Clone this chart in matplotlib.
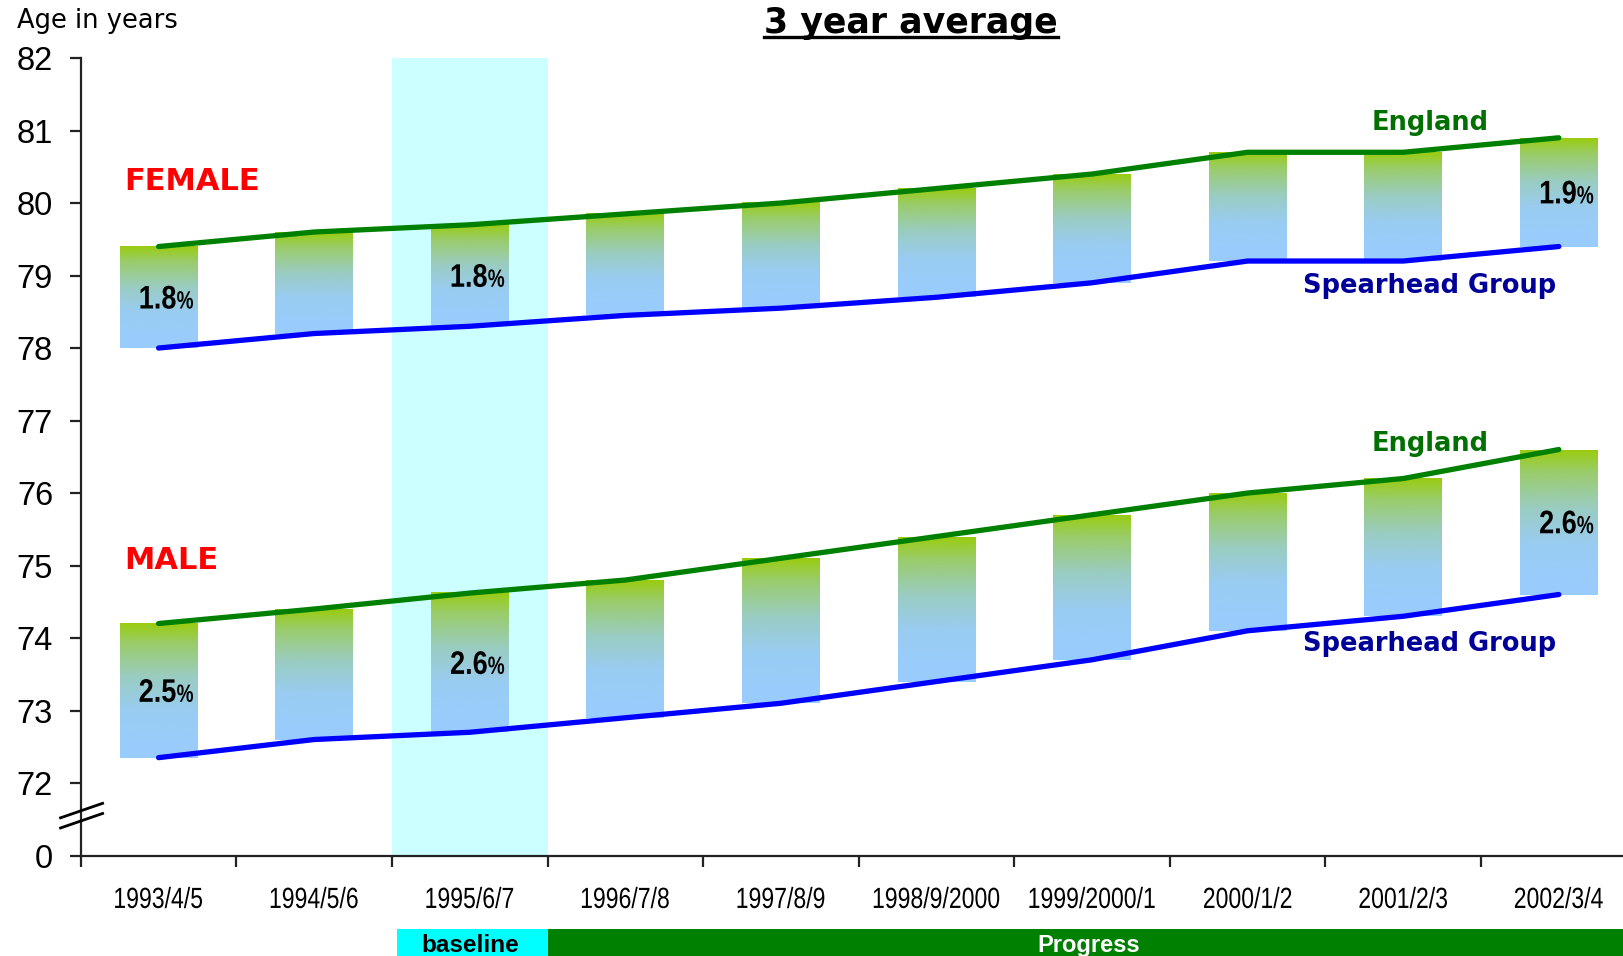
import numpy as np
import matplotlib
matplotlib.use("Agg")
import matplotlib.pyplot as plt
from matplotlib.colors import LinearSegmentedColormap
from matplotlib.transforms import blended_transform_factory, Affine2D, ScaledTranslation
from matplotlib.patches import Rectangle, PathPatch
from matplotlib.lines import Line2D
from matplotlib.textpath import TextPath
from matplotlib.font_manager import FontProperties

# life expectancy, 3 year averages
periods = ["1993/4/5", "1994/5/6", "1995/6/7", "1996/7/8", "1997/8/9",
           "1998/9/2000", "1999/2000/1", "2000/1/2", "2001/2/3", "2002/3/4"]

female_england = [79.4, 79.6, 79.7, 79.85, 80.0, 80.2, 80.4, 80.7, 80.7, 80.9]
female_spearhead = [78.0, 78.2, 78.3, 78.45, 78.55, 78.7, 78.9, 79.2, 79.2, 79.4]
male_england = [74.2, 74.4, 74.62, 74.8, 75.1, 75.4, 75.7, 76.0, 76.2, 76.6]
male_spearhead = [72.35, 72.6, 72.7, 72.9, 73.1, 73.4, 73.7, 74.1, 74.3, 74.6]

gap_label_idx = [0, 2, 9]   # periods where the % gap is written
y_ticks = [71, 72, 73, 74, 75, 76, 77, 78, 79, 80, 81, 82]
y_ticklabels = ["0", "72", "73", "74", "75", "76", "77", "78", "79", "80", "81", "82"]

ARIAL = ["Liberation Sans", "DejaVu Sans"]
DPI = 100
PX = DPI / 72.0


def narrow_text(ax, x, y, s, size, trans, weight="normal", ha="center", va="center",
                squeeze=0.8, dx=0, dy=0, color="black", zorder=4):
    # no condensed font installed, so squeeze the glyph outlines horizontally
    tp = TextPath((0, 0), s, size=size, prop=FontProperties(family="Liberation Sans",
                                                            weight=weight))
    ext = tp.get_extents()
    ox = {"left": ext.x0, "center": (ext.x0 + ext.x1) / 2, "right": ext.x1}[ha]
    oy = {"baseline": 0, "center": (ext.y0 + ext.y1) / 2, "top": ext.y1}[va]
    tr = (Affine2D().translate(-ox, -oy).scale(squeeze * PX, PX).translate(dx, dy)
          + ScaledTranslation(x, y, trans))
    ax.add_patch(PathPatch(tp, transform=tr, facecolor=color, lw=0,
                           zorder=zorder, clip_on=False))
    return ext


fig = plt.figure(figsize=(16.24, 9.56), dpi=DPI)
ax = fig.add_axes([0.04975, 0.1051, 0.958, 0.8342])

x = np.arange(len(periods))

grad = LinearSegmentedColormap.from_list(
    "gap", [(0.0, "#99CCFF"), (0.35, "#99CCF2"), (0.6, "#9ACCC2"),
            (0.85, "#9ACC6A"), (1.0, "#99CC10")])
g = np.linspace(0, 1, 256).reshape(-1, 1)

# baseline period shading
ax.axvspan(1.5, 2.5, color="#CCFFFF", zorder=0, lw=0)

for eng, spear in [(female_england, female_spearhead), (male_england, male_spearhead)]:
    for xi, top, bot in zip(x, eng, spear):
        ax.imshow(g, cmap=grad, origin="lower", aspect="auto",
                  extent=(xi - 0.25, xi + 0.25, bot, top), zorder=1)
    ax.plot(x, eng, color="#008000", lw=3.8, solid_capstyle="round", zorder=3)
    ax.plot(x, spear, color="#0000FF", lw=3.8, solid_capstyle="round", zorder=3)
    for i in gap_label_idx:
        pct = (eng[i] - spear[i]) / eng[i] * 100
        ymid = (eng[i] + spear[i]) / 2
        num = f"{pct:.1f}"
        ext = TextPath((0, 0), num, size=23.5,
                       prop=FontProperties(family="Liberation Sans", weight="bold")).get_extents()
        base = -(ext.y0 + ext.y1) / 2 * PX
        narrow_text(ax, x[i], ymid, num, 23.5, ax.transData, weight="bold",
                    ha="right", va="baseline", squeeze=0.83, dx=17, dy=base)
        narrow_text(ax, x[i], ymid, "%", 18, ax.transData, weight="bold",
                    ha="left", va="baseline", squeeze=0.76, dx=18.5, dy=base)

ax.set_xlim(-0.5, 9.5)
ax.set_ylim(71, 82)

# group and series labels
ax.text(-0.22, 80.3, "FEMALE", color="#FF0000", fontsize=22, fontweight="bold",
        ha="left", va="center")
ax.text(-0.22, 75.07, "MALE", color="#FF0000", fontsize=22, fontweight="bold",
        ha="left", va="center")
for yy in (81.11, 76.67):
    ax.text(8.17, yy, "England", color="#007000", fontsize=18.5, fontweight="bold",
            ha="center", va="center")
for yy in (78.86, 73.92):
    ax.text(8.17, yy, "Spearhead Group", color="#000099", fontsize=18.5,
            fontweight="bold", ha="center", va="center")

# axes styling
for side in ("top", "right"):
    ax.spines[side].set_visible(False)
for side in ("left", "bottom"):
    ax.spines[side].set_linewidth(1.6)
    ax.spines[side].set_color("#222222")

ax.set_yticks(y_ticks)
ax.set_yticklabels(y_ticklabels, family=ARIAL, fontsize=23.5)
ax.tick_params(axis="y", length=8, width=1.6, pad=12, color="#222222")

ax.set_xticks(x)
ax.set_xticklabels([])
ax.set_xticks(np.arange(-0.5, 10, 1.0), minor=True)
ax.tick_params(axis="x", which="major", length=0)
ax.tick_params(axis="x", which="minor", length=8, width=1.6, color="#222222")

xlab_tr = blended_transform_factory(ax.transData, ax.transAxes)
for xi, lab in zip(x, periods):
    narrow_text(ax, xi, 0, lab, 21, xlab_tr, ha="center", va="center",
                squeeze=0.79, dy=-42)

# axis break between 0 and 72
bt = blended_transform_factory(ax.transAxes, ax.transData)
for y0 in (71.38, 71.52):
    ax.add_line(Line2D([-0.013, 0.014], [y0, y0 + 0.2], transform=bt, color="black",
                       lw=2, clip_on=False, zorder=5))

# baseline / progress strip under the axis
st = blended_transform_factory(ax.transData, fig.transFigure)
ax.add_patch(Rectangle((1.53, 0), 0.97, 0.0282, transform=st, color="#00FFFF",
                       clip_on=False, lw=0))
ax.add_patch(Rectangle((2.5, 0), 7.5, 0.0282, transform=st, color="#008000",
                       clip_on=False, lw=0))
ax.text(2.0, 0.011, "baseline", transform=st, ha="center", va="center",
        fontsize=17.5, fontweight="bold", family=ARIAL, color="black")
ax.text(5.98, 0.011, "Progress", transform=st, ha="center", va="center",
        fontsize=17, fontweight="bold", family=ARIAL, color="white")

fig.text(0.0102, 0.978, "Age in years", fontsize=18.5, ha="left", va="center")
title = fig.text(0.561, 0.976, "3 year average", fontsize=25, fontweight="bold",
                 ha="center", va="center")

# underline the title
fig.canvas.draw()
bb = title.get_window_extent(fig.canvas.get_renderer())
fx0, fx1 = bb.x0 / fig.bbox.width, bb.x1 / fig.bbox.width
fy = (bb.y0 + 3) / fig.bbox.height
fig.add_artist(Line2D([fx0, fx1], [fy, fy], transform=fig.transFigure,
                      color="black", lw=2.4))

fig.savefig("out.png", dpi=DPI)
